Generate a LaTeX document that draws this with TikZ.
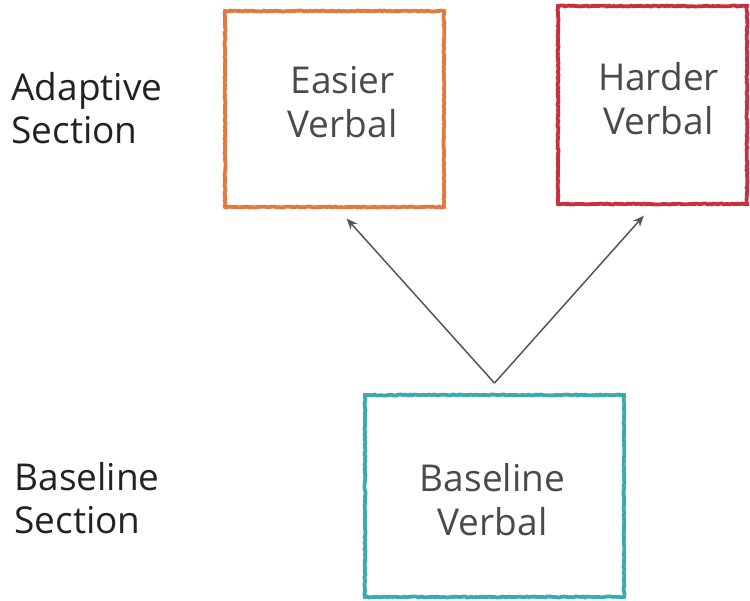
\documentclass[tikz,border=0pt]{standalone}
\usepackage{fontspec}
\setmainfont{Open Sans}
\usetikzlibrary{arrows.meta,decorations.pathmorphing}
\definecolor{easyc}{HTML}{E27A3F}
\definecolor{hardc}{HTML}{C9303F}
\definecolor{basec}{HTML}{3AAAAF}
\definecolor{txtc}{HTML}{4A4A4A}
\definecolor{lblc}{HTML}{222222}
\definecolor{arrc}{HTML}{555555}
\tikzset{
  sketchbox/.style={draw=#1, line width=3.8pt, inner sep=0pt,
    decorate, decoration={random steps, segment length=2pt, amplitude=0.5pt}},
  boxtext/.style={align=center, inner sep=0pt, text=txtc, font=\fontsize{37}{44}\selectfont},
  sidelabel/.style={anchor=west, align=left, text=lblc, font=\fontsize{37}{43}\selectfont},
  flow/.style={draw=arrc, line width=1.5pt, -{Stealth[length=11pt,width=9pt]}, shorten >=13pt}
}
\begin{document}
\begin{tikzpicture}[x=1pt,y=-1pt]
\useasboundingbox (0,0) rectangle (750,601);
% boxes
\node[sketchbox=easyc, minimum width=219pt, minimum height=196pt] (easier) at (334.5,109) {};
\node[sketchbox=hardc, minimum width=189pt, minimum height=198pt] (harder) at (652.5,105) {};
\node[sketchbox=basec, minimum width=259pt, minimum height=202pt] (baseline) at (494.5,496) {};
% box texts
\node[boxtext] (easiertxt) at ([xshift=8pt,yshift=7pt]easier.center) {Easier\\Verbal};
\node[boxtext] (hardertxt) at ([xshift=6pt,yshift=6pt]harder.center) {Harder\\Verbal};
\node[boxtext] (baselinetxt) at ([xshift=-2pt,yshift=-4pt]baseline.center) {Baseline\\Verbal};
% side labels
\node[sidelabel] (adaptlbl) at (8,108) {Adaptive\\Section};
\node[sidelabel] (baselbl) at (11,498) {Baseline\\Section};
% connectors
\coordinate (fork) at ([yshift=10pt]baseline.north);
\draw[flow] (fork) -- ([xshift=3.5pt]easier.south);
\draw[flow] (fork) -- (harder.south);
\end{tikzpicture}
\end{document}
